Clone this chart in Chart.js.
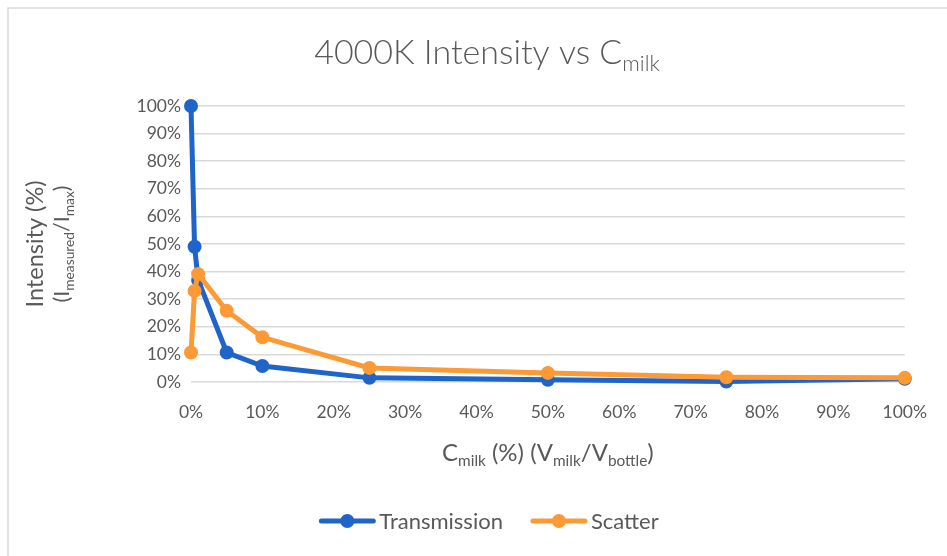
<!DOCTYPE html>
<html>
<head>
<meta charset="utf-8">
<script src="https://cdn.jsdelivr.net/npm/chart.js@4/dist/chart.umd.min.js"></script>
<style>
  html, body { margin: 0; padding: 0; background: #ffffff; }
  #wrap { width: 947px; height: 556px; position: relative; }
</style>
</head>
<body>
<div id="wrap"><canvas id="chart" width="947" height="556"></canvas></div>
<script>
// Milk concentration (% of bottle volume)
const milkConc = [0, 0.5, 1, 5, 10, 25, 50, 75, 100];
// Normalised intensity (%), I_measured / I_max
const transmission = [100, 49, 37, 10.7, 5.8, 1.5, 0.8, 0.2, 1.2];
const scatter = [10.7, 33, 39.1, 25.8, 16.2, 5.1, 3.3, 1.7, 1.5];
const seriesNames = ['Transmission', 'Scatter'];
const titleParts = [{ t: '4000K Intensity vs C' }, { t: 'milk', sub: true }];
const yTitleLine1 = [{ t: 'Intensity (%)' }];
const yTitleLine2 = [{ t: '(I' }, { t: 'measured', sub: true }, { t: '/I' }, { t: 'max', sub: true }, { t: ')' }];
const xTitleParts = [{ t: 'C' }, { t: 'milk', sub: true }, { t: ' (%) (V' }, { t: 'milk', sub: true }, { t: '/V' }, { t: 'bottle', sub: true }, { t: ')' }];

const BLUE = '#1F64C8';
const ORANGE = '#FD9A36';
const TEXT = '#595959';
const GRID = '#D9D9D9';
const FONT = 'Lato, "Open Sans", sans-serif';

const toXY = (xs, ys) => xs.map((x, i) => ({ x: x, y: ys[i] }));

// Width of a run of text that mixes normal and subscript pieces
function richWidth(ctx, parts, size, weight) {
  let w = 0;
  parts.forEach(p => {
    const s = p.sub ? size * 0.64 : size;
    ctx.font = `${weight} ${s}px ${FONT}`;
    w += ctx.measureText(p.t).width;
  });
  return w;
}
// Draw such a run centred on cx
function drawRich(ctx, parts, cx, baseline, size, weight) {
  const w = richWidth(ctx, parts, size, weight);
  let x = cx - w / 2;
  ctx.textAlign = 'left';
  ctx.textBaseline = 'alphabetic';
  ctx.fillStyle = TEXT;
  parts.forEach(p => {
    const s = p.sub ? size * 0.64 : size;
    ctx.font = `${weight} ${s}px ${FONT}`;
    ctx.fillText(p.t, x, baseline + (p.sub ? size * 0.22 : 0));
    x += ctx.measureText(p.t).width;
  });
}

const decorations = {
  id: 'decorations',
  beforeDraw(chart) {
    const ctx = chart.ctx;
    ctx.save();
    ctx.fillStyle = '#ffffff';
    ctx.fillRect(0, 0, chart.width, chart.height);
    ctx.strokeStyle = '#D9D9D9';
    ctx.lineWidth = 1.5;
    ctx.strokeRect(8, 8, chart.width + 20, chart.height + 20);
    ctx.restore();
  },
  afterDraw(chart) {
    const ctx = chart.ctx;
    const area = chart.chartArea;
    ctx.save();
    // chart title
    drawRich(ctx, titleParts, 487, 64, 34, 300);
    // x axis title
    drawRich(ctx, xTitleParts, (area.left + area.right) / 2, 461, 24, 400);
    // y axis title, two rotated lines
    const cy = (area.top + area.bottom) / 2;
    ctx.save();
    ctx.translate(43, cy);
    ctx.rotate(-Math.PI / 2);
    drawRich(ctx, yTitleLine1, 0, 0, 23.5, 400);
    ctx.restore();
    ctx.save();
    ctx.translate(69, cy);
    ctx.rotate(-Math.PI / 2);
    drawRich(ctx, yTitleLine2, 0, 0, 21.5, 400);
    ctx.restore();

    // legend: line segment with marker, then the series name
    const size = 22;
    ctx.font = `400 ${size}px ${FONT}`;
    const seg = 56, gapText = 4, gapItem = 28;
    const items = chart.data.datasets.map(ds => ({
      label: ds.label, color: ds.borderColor, w: seg + gapText + ctx.measureText(ds.label).width
    }));
    const total = items.reduce((a, it) => a + it.w, 0) + gapItem * (items.length - 1);
    let x = 489 - total / 2;
    const ly = 521;
    items.forEach(it => {
      ctx.strokeStyle = it.color;
      ctx.lineWidth = 5;
      ctx.lineCap = 'round';
      ctx.beginPath();
      ctx.moveTo(x + 2, ly);
      ctx.lineTo(x + seg - 2, ly);
      ctx.stroke();
      ctx.fillStyle = it.color;
      ctx.beginPath();
      ctx.arc(x + seg / 2, ly, 7, 0, Math.PI * 2);
      ctx.fill();
      ctx.fillStyle = TEXT;
      ctx.font = `400 ${size}px ${FONT}`;
      ctx.textAlign = 'left';
      ctx.textBaseline = 'middle';
      ctx.fillText(it.label, x + seg + gapText, ly + 1);
      x += it.w + gapItem;
    });
    ctx.restore();
  }
};

new Chart(document.getElementById('chart'), {
  type: 'scatter',
  data: {
    datasets: [
      {
        label: seriesNames[0],
        data: toXY(milkConc, transmission),
        showLine: true,
        clip: false,
        borderColor: BLUE,
        backgroundColor: BLUE,
        borderWidth: 5,
        pointRadius: 7,
        pointHoverRadius: 7,
        pointBorderWidth: 0,
        order: 2
      },
      {
        label: seriesNames[1],
        data: toXY(milkConc, scatter),
        showLine: true,
        clip: false,
        borderColor: ORANGE,
        backgroundColor: ORANGE,
        borderWidth: 5,
        pointRadius: 7,
        pointHoverRadius: 7,
        pointBorderWidth: 0,
        order: 1
      }
    ]
  },
  options: {
    responsive: false,
    animation: false,
    devicePixelRatio: 1,
    layout: { padding: { left: 80, right: 42, top: 106, bottom: 114 } },
    plugins: {
      legend: { display: false },
      title: { display: false },
      tooltip: { enabled: false }
    },
    scales: {
      x: {
        type: 'linear',
        min: 0,
        max: 100,
        afterFit(scale) { scale.height = 60; },
        border: { display: false },
        grid: { display: false, drawTicks: false },
        ticks: {
          stepSize: 10,
          padding: 20,
          color: TEXT,
          font: { family: FONT, size: 17.5 },
          callback: v => v + '%'
        }
      },
      y: {
        type: 'linear',
        min: 0,
        max: 100,
        afterFit(scale) { scale.width = 111; },
        border: { display: false },
        grid: { color: GRID, lineWidth: 1.5, drawTicks: false },
        ticks: {
          stepSize: 10,
          padding: 10,
          color: TEXT,
          font: { family: FONT, size: 17.5 },
          callback: v => v + '%'
        }
      }
    }
  },
  plugins: [decorations]
});
</script>
</body>
</html>
